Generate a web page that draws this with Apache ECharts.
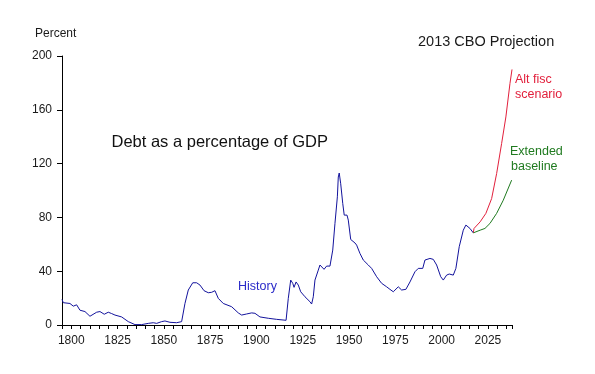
<!DOCTYPE html>
<html>
<head>
<meta charset="utf-8">
<script src="https://cdn.jsdelivr.net/npm/echarts@6/dist/echarts.min.js"></script>
<style>
html,body{margin:0;padding:0;background:#fff;}
#chart{width:595px;height:374px;}
</style>
</head>
<body>
<div id="chart"></div>
<script>
// ---- Data ----
const historyYears = [1795,1795.7,1799.3,1801.1,1802.9,1804.7,1807.4,1810.1,1813.7,1815.5,1817.8,1820,1821.8,1823.6,1827.2,1830.8,1834.4,1838,1841.6,1844.3,1846.1,1848.8,1850.6,1853.3,1856.9,1859.6,1861.4,1863.2,1865.6,1867.7,1869.5,1871.7,1874,1875.8,1877.6,1879.4,1882.1,1886.6,1890.2,1892,1894.7,1897.4,1899.2,1901.9,1906.4,1910.9,1916,1917.2,1918.5,1919.6,1920.3,1921.4,1922.6,1923.9,1926.2,1928.9,1929.8,1930.7,1931.6,1933.4,1934.3,1935.2,1936.5,1937.9,1939.7,1940.6,1941.2,1942.4,1943.7,1944.2,1944.7,1945.5,1946.6,1947.4,1948.3,1948.9,1949.6,1950.9,1953.2,1954.1,1955.9,1957.7,1960.4,1962.2,1964.9,1967.6,1970.3,1972.1,1973.9,1976.6,1978.4,1980.7,1982.9,1985.6,1987.4,1989.8,1991,1993.7,1995.5,1997.3,1999.5,2000.9,2002.7,2004.1,2006.3,2007.7,2009.5,2011.7,2013.1,2015.3,2017.1];
const historyDebt = [19,16.6,16,14,15,11,10,6.5,9.5,10,8,9.5,8.5,7.4,6,2.5,0.3,0.3,1.2,1.7,1.2,2.5,3,2,1.7,2.5,16,26,31.4,31.4,29.7,25.5,24,24.3,25.5,19.8,16,13.6,9,7.4,8.2,9,8.7,6,5,4.2,3.5,19.8,33.4,31,28,32,29.7,24.7,21,17.3,15.6,21,33.4,40.8,44.6,43.3,41.4,43.8,43.8,43.3,55.7,75.5,95.3,110,113,105,90.4,81.7,80.4,81.7,78,63.6,61,59.4,53.2,48.3,44.6,42.1,35.9,31,28.4,26.5,24.7,28.4,26,26.5,32,39.6,42.1,42.1,48.3,49.5,48.8,44.6,35.9,33.4,37.1,37.9,37.1,42.1,58.2,70.5,74.3,71.8,68.5];

const altYears = [2017.1,2017.5,2020.8,2023.9,2027,2029.7,2032.4,2034.7,2036.9,2038];
const altDebt  = [68.5,71.8,76.7,83,94,112.6,135,154.7,179.5,190];

const baseYears = [2017.1,2020.8,2023.4,2026.1,2029.7,2033.3,2037.8];
const baseDebt  = [68.5,70.5,71.8,75.5,83,92.8,107.7];

const yTicks = [0,40,80,120,160,200];
const xLabelYears = [1800,1825,1850,1875,1900,1925,1950,1975,2000,2025];

// ---- Build chart ----
const FONT = '"Liberation Sans", Arial, sans-serif';
const zip = (xs, ys) => xs.map((x, i) => [x, ys[i]]);

const chart = echarts.init(document.getElementById('chart'), null, {renderer: 'canvas'});
chart.setOption({
  animation: false,
  backgroundColor: '#ffffff',
  grid: {left: 62, right: 83, top: 56, bottom: 49, containLabel: false},
  xAxis: {
    type: 'value',
    min: 1795, max: 2038, interval: 5,
    axisLine: {show: true, lineStyle: {color: '#000', width: 1}},
    axisTick: {show: true, length: 4, lineStyle: {color: '#000', width: 1}},
    axisLabel: {
      margin: 10, color: '#1a1a1a', fontSize: 12, fontFamily: FONT,
      formatter: v => xLabelYears.indexOf(v) >= 0 ? String(v) : ''
    },
    splitLine: {show: false}
  },
  yAxis: {
    type: 'value',
    min: yTicks[0], max: yTicks[yTicks.length - 1], interval: 40,
    axisLine: {show: true, lineStyle: {color: '#000', width: 1}},
    axisTick: {show: true, length: 5, lineStyle: {color: '#000', width: 1}},
    axisLabel: {margin: 10, color: '#1a1a1a', fontSize: 12, fontFamily: FONT,
      formatter: v => String(v)},
    splitLine: {show: false}
  },
  series: [
    {type: 'line', name: 'History', data: zip(historyYears, historyDebt),
     showSymbol: false, symbol: 'none', lineStyle: {color: '#13139c', width: 1}},
    {type: 'line', name: 'Alt fisc scenario', data: zip(altYears, altDebt),
     showSymbol: false, symbol: 'none', lineStyle: {color: '#e2203c', width: 1}},
    {type: 'line', name: 'Extended baseline', data: zip(baseYears, baseDebt),
     showSymbol: false, symbol: 'none', lineStyle: {color: '#1f7a1f', width: 1}}
  ],
  graphic: [
    {type: 'text', x: 35, y: 34, style: {text: 'Percent', font: '12px ' + FONT, fill: '#1a1a1a', textAlign: 'left', textVerticalAlign: 'middle'}},
    {type: 'text', x: 418, y: 41.5, style: {text: '2013 CBO Projection', font: '14.5px ' + FONT, fill: '#1a1a1a', textAlign: 'left', textVerticalAlign: 'middle'}},
    {type: 'text', x: 111.5, y: 142.5, style: {text: 'Debt as a percentage of GDP', font: '16.5px ' + FONT, fill: '#111', textAlign: 'left', textVerticalAlign: 'middle'}},
    {type: 'text', x: 238, y: 287, style: {text: 'History', font: '12.5px ' + FONT, fill: '#2a2ac8', textAlign: 'left', textVerticalAlign: 'middle'}},
    {type: 'text', x: 515, y: 79.7, style: {text: 'Alt fisc', font: '12.5px ' + FONT, fill: '#e2203c', textAlign: 'left', textVerticalAlign: 'middle'}},
    {type: 'text', x: 515, y: 94.7, style: {text: 'scenario', font: '12.5px ' + FONT, fill: '#e2203c', textAlign: 'left', textVerticalAlign: 'middle'}},
    {type: 'text', x: 510, y: 152, style: {text: 'Extended', font: '12.5px ' + FONT, fill: '#1f7a1f', textAlign: 'left', textVerticalAlign: 'middle'}},
    {type: 'text', x: 511, y: 166.7, style: {text: 'baseline', font: '12.5px ' + FONT, fill: '#1f7a1f', textAlign: 'left', textVerticalAlign: 'middle'}}
  ]
});
</script>
</body>
</html>
